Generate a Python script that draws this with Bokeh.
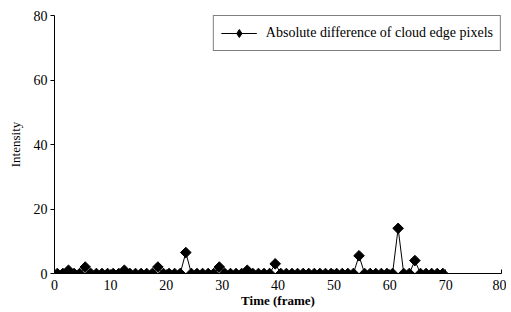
import numpy as np
from bokeh.plotting import figure
from bokeh.models import Range1d, Legend, LegendItem, FixedTicker
from bokeh.embed import file_html
from bokeh.resources import INLINE

frames = np.arange(0.5, 70.0, 1.0)
intensity = [0, 0, 1, 0, 0, 2, 0, 0, 0, 0,
             0, 0, 1, 0, 0, 0, 0, 0, 2, 0,
             0, 0, 0, 6.5, 0, 0, 0, 0, 0, 2,
             0, 0, 0, 0, 1, 0, 0, 0, 0, 3,
             0, 0, 0, 0, 0, 0, 0, 0, 0, 0,
             0, 0, 0, 0, 5.5, 0, 0, 0, 0, 0,
             0, 14, 0, 0, 4, 0, 0, 0, 0, 0]
x_ticks = [0, 10, 20, 30, 40, 50, 60, 70, 80]
y_ticks = [0, 20, 40, 60, 80]
series_name = "Absolute difference of cloud edge pixels"

FONT = "Liberation Serif"

p = figure(width=506, height=310, output_backend="svg", toolbar_location=None,
           x_range=Range1d(0, 80), y_range=Range1d(0, 80),
           min_border_left=54, min_border_right=5, min_border_top=15, min_border_bottom=31)
p.outline_line_color = None
p.grid.grid_line_color = None
p.background_fill_color = "white"

r_line = p.line(frames, intensity, line_color="black", line_width=1)
r_pts = p.scatter(frames, intensity, marker="square", angle=np.pi / 4, size=7.5,
                  fill_color="black", line_color="black")
# legend-only glyph (NaN data, nothing drawn) so the legend shows a diamond
r_leg = p.scatter([np.nan], [np.nan], marker="diamond", size=12,
                  fill_color="black", line_color="black")

p.xaxis.ticker = FixedTicker(ticks=x_ticks)
p.yaxis.ticker = FixedTicker(ticks=y_ticks)
for ax in (p.xaxis[0], p.yaxis[0]):
    ax.axis_line_color = "black"
    ax.major_tick_line_color = "black"
    ax.minor_tick_line_color = None
    ax.major_label_text_font = FONT
    ax.major_label_text_font_size = "14px"
    ax.major_label_text_color = "black"
    ax.axis_label_text_font = FONT
    ax.axis_label_text_color = "black"
    ax.axis_label_text_font_style = "normal"
p.xaxis.major_tick_in = 4
p.xaxis.major_tick_out = 0
p.yaxis.major_tick_in = 0
p.yaxis.major_tick_out = 4
p.xaxis.axis_label = "Time (frame)"
p.xaxis.axis_label_text_font_size = "13px"
p.xaxis.axis_label_text_font_style = "bold"
p.xaxis.axis_label_standoff = 0
p.xaxis.major_label_standoff = 6
p.yaxis.axis_label = "Intensity"
p.yaxis.axis_label_text_font_size = "13px"
p.yaxis.axis_label_standoff = 8
p.yaxis.major_label_standoff = 3

legend = Legend(items=[LegendItem(label=series_name, renderers=[r_line, r_leg])],
                location="top_right", label_text_font=FONT, label_text_font_size="14px",
                label_text_color="black", border_line_color="black", border_line_width=1,
                glyph_width=36, padding=7, margin=0, spacing=0, label_standoff=9,
                background_fill_alpha=1)
p.add_layout(legend)

open("out.html", "w").write(file_html(p, INLINE))
